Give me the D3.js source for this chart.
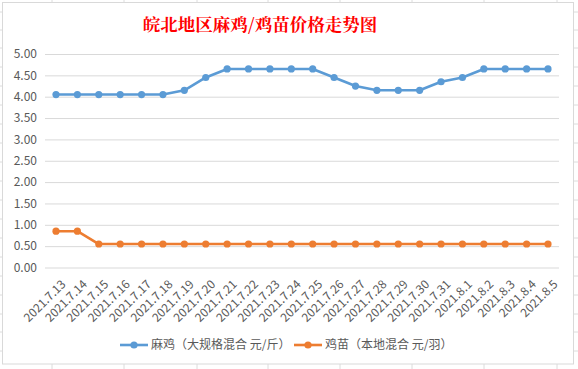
<!DOCTYPE html>
<html><head><meta charset="utf-8">
<script src="https://cdn.jsdelivr.net/npm/d3@7/dist/d3.min.js"></script>
<style>html,body{margin:0;padding:0;background:#fff;}svg{display:block;}</style>
</head><body>
<script>
const title = "皖北地区麻鸡/鸡苗价格走势图";
const dates = ["2021.7.13","2021.7.14","2021.7.15","2021.7.16","2021.7.17","2021.7.18","2021.7.19","2021.7.20","2021.7.21","2021.7.22","2021.7.23","2021.7.24","2021.7.25","2021.7.26","2021.7.27","2021.7.28","2021.7.29","2021.7.30","2021.7.31","2021.8.1","2021.8.2","2021.8.3","2021.8.4","2021.8.5"];
const chickenName = "麻鸡（大规格混合 元/斤）";
const chickenValues = [4.05,4.05,4.05,4.05,4.05,4.05,4.15,4.45,4.65,4.65,4.65,4.65,4.65,4.45,4.25,4.15,4.15,4.15,4.35,4.45,4.65,4.65,4.65,4.65];
const chickName = "鸡苗（本地混合 元/羽）";
const chickValues = [0.85,0.85,0.55,0.55,0.55,0.55,0.55,0.55,0.55,0.55,0.55,0.55,0.55,0.55,0.55,0.55,0.55,0.55,0.55,0.55,0.55,0.55,0.55,0.55];
const yTicks = [0,0.5,1,1.5,2,2.5,3,3.5,4,4.5,5];

const W = 578, H = 369;
const svg = d3.select("body").append("svg").attr("width", W).attr("height", H);
const font = "'Microsoft YaHei','Noto Sans CJK SC','Noto Sans',sans-serif";

// faint spreadsheet cell lines outside chart
const cellX = [52,124,197,268,340,412,484,557];
cellX.forEach(x => {
  svg.append("line").attr("x1",x).attr("x2",x).attr("y1",0).attr("y2",2).attr("stroke","#dcdcdc");
  svg.append("line").attr("x1",x).attr("x2",x).attr("y1",364).attr("y2",369).attr("stroke","#dcdcdc");
});
const cellY = [12,30,48,67,86,105,124,143,162,181,200,219,238,257,276,295,314,332,351];
cellY.forEach(y => {
  svg.append("line").attr("x1",574).attr("x2",578).attr("y1",y).attr("y2",y).attr("stroke","#dcdcdc");
  svg.append("line").attr("x1",0).attr("x2",2).attr("y1",y).attr("y2",y).attr("stroke","#dcdcdc");
});

svg.append("rect").attr("x",2.5).attr("y",2.5).attr("width",571).attr("height",361.5)
  .attr("fill","#fff").attr("stroke","#d9d9d9");

const x = d3.scalePoint().domain(dates).range([56, 548]);
const y = d3.scaleLinear().domain([0,5]).range([267.5, 54]);

// title
svg.append("text").attr("x",260).attr("y",31).attr("text-anchor","middle")
  .attr("fill","#ff0000").attr("font-size","17.5px").attr("font-weight","bold")
  .attr("font-family","'Noto Serif CJK SC','Noto Sans CJK SC',serif").text(title);

// gridlines
const yAxis = d3.axisLeft(y).tickValues(yTicks).tickFormat(d3.format(".2f")).tickSize(-(559-45)).tickPadding(8);
const gy = svg.append("g").attr("transform","translate(45,0)").call(yAxis);
gy.select(".domain").remove();
gy.selectAll(".tick line").attr("stroke","#d9d9d9");
gy.selectAll(".tick text").attr("fill","#595959").attr("font-size","12px").attr("font-family",font);

// x axis labels
const xAxis = d3.axisBottom(x).tickSize(0).tickPadding(0);
const gx = svg.append("g").attr("transform","translate(0,278)").call(xAxis);
gx.select(".domain").remove();
gx.selectAll(".tick text").attr("fill","#595959").attr("font-size","12px").attr("font-family",font)
  .attr("text-anchor","end").attr("dy","0.35em")
  .attr("transform","translate(7,4) rotate(-45)");

function drawSeries(vals, color) {
  const line = d3.line().x((d,i)=>x(dates[i])).y(d=>y(d));
  svg.append("path").datum(vals).attr("d",line).attr("fill","none")
    .attr("stroke",color).attr("stroke-width",2.6).attr("stroke-linejoin","round");
  svg.selectAll(null).data(vals).enter().append("circle")
    .attr("cx",(d,i)=>x(dates[i])).attr("cy",d=>y(d)).attr("r",3.6).attr("fill",color);
}
drawSeries(chickenValues, "#5b9bd5");
drawSeries(chickValues, "#ed7d31");

// legend
const legend = [{name:chickenName,color:"#5b9bd5",x:120},{name:chickName,color:"#ed7d31",x:294}];
legend.forEach(l => {
  const g = svg.append("g");
  g.append("line").attr("x1",l.x).attr("x2",l.x+28).attr("y1",345).attr("y2",345)
    .attr("stroke",l.color).attr("stroke-width",2.6);
  g.append("circle").attr("cx",l.x+14).attr("cy",345).attr("r",3.6).attr("fill",l.color);
  g.append("text").attr("x",l.x+31).attr("y",345).attr("dy","0.35em").attr("fill","#595959")
    .attr("font-size","12px").attr("font-family",font).text(l.name);
});
</script>
</body></html>
